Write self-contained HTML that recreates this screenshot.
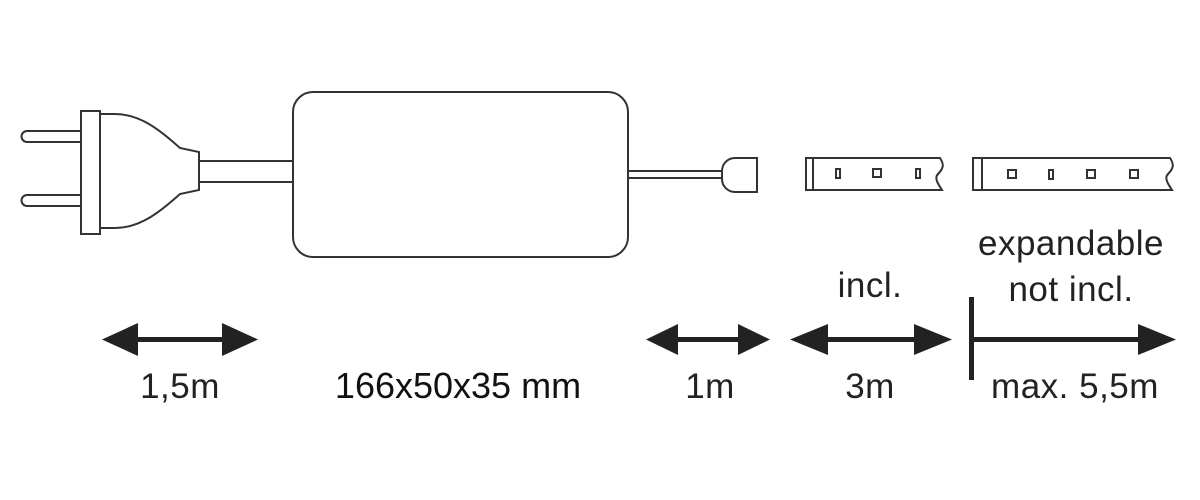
<!DOCTYPE html>
<html><head><style>
html,body{margin:0;padding:0;background:#fff;}
svg{display:block}
.t{font-family:"Liberation Sans",sans-serif;font-size:35px;fill:#222;text-anchor:middle;letter-spacing:0.5px}
</style></head><body>
<svg width="1200" height="500" viewBox="0 0 1200 500" xmlns="http://www.w3.org/2000/svg">
<g fill="none" stroke="#333" stroke-width="2">
<path d="M81 131 H27 a5.5 5.5 0 0 0 0 11 H81"/>
<path d="M81 195 H27 a5.5 5.5 0 0 0 0 11 H81"/>
<rect x="81" y="111" width="19" height="123"/>
<path d="M100 114 H115 C140 114 160 130 180 148 L199 152 V190 L180 194 C160 212 140 228 115 228 H100"/>
<path d="M199 161 H293 M199 182 H293"/>
<rect x="293" y="92" width="335" height="165" rx="20"/>
<path d="M628 171 H722 M628 178 H722"/>
<path d="M735 158 H757 V192 H735 a13 13 0 0 1 -13 -13 V171 a13 13 0 0 1 13 -13 Z"/>
<path d="M806 158 H940 c4 6 4 10 -2 16 c-4 4 0 10 4 16 H806 Z"/>
<path d="M813 158 V190"/>
<rect x="836" y="169" width="4" height="9"/>
<rect x="873" y="169" width="8" height="8"/>
<rect x="916" y="169" width="4" height="9"/>
<path d="M973 158 H1170 c4 6 4 10 -2 16 c-4 4 0 10 4 16 H973 Z"/>
<path d="M982 158 V190"/>
<rect x="1008" y="170" width="8" height="8"/>
<rect x="1049" y="170" width="4" height="9"/>
<rect x="1087" y="170" width="8" height="8"/>
<rect x="1130" y="170" width="8" height="8"/>
</g>
<g fill="#222" stroke="none">
<rect x="130" y="337" width="100" height="5"/>
<path d="M102 339.5 L138 323 V356 Z"/><path d="M258 339.5 L222 323 V356 Z"/>
<rect x="670" y="337" width="80" height="5"/>
<path d="M646 339.5 L678 324 V355 Z"/><path d="M770 339.5 L738 324 V355 Z"/>
<rect x="815" y="337" width="110" height="5"/>
<path d="M790 339.5 L828 324 V355 Z"/><path d="M952 339.5 L914 324 V355 Z"/>
<rect x="969" y="297" width="5" height="83"/>
<rect x="972" y="337" width="180" height="5"/>
<path d="M1176 339.5 L1138 324 V355 Z"/>
</g>
<text class="t" x="180" y="398">1,5m</text>
<text x="458" y="398" font-family="Liberation Sans,sans-serif" font-size="36" fill="#111" text-anchor="middle">166x50x35 mm</text>
<text class="t" x="710" y="398">1m</text>
<text class="t" x="870" y="398">3m</text>
<text class="t" x="1075" y="398">max. 5,5m</text>
<text class="t" x="870" y="297">incl.</text>
<text class="t" x="1071" y="255">expandable</text>
<text class="t" x="1071" y="301">not incl.</text>
</svg>
</body></html>
